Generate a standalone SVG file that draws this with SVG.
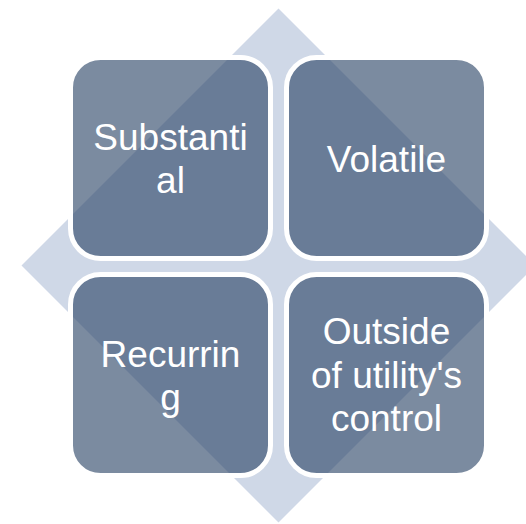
<svg xmlns="http://www.w3.org/2000/svg" width="526" height="524" viewBox="0 0 526 524">
<style>
.box{fill:#2a4466;fill-opacity:0.62;stroke:#ffffff;stroke-width:5}
.lbl{font-family:"Liberation Sans",Arial,sans-serif;font-size:37px;fill:#ffffff;text-anchor:middle}
</style>
<rect width="526" height="524" fill="#ffffff"/>
<g id="diamond"><polygon points="278.5,8.5 535.5,265.5 278.5,522.5 21.5,265.5" fill="#cfd8e7"/></g>
<g id="connectors"/>
<g id="n1"><rect class="box" x="70.5" y="57.5" width="200" height="201" rx="30"/><text class="lbl" x="170.5" y="150">Substanti</text><text class="lbl" x="170.5" y="193">al</text></g>
<g id="n2"><rect class="box" x="286.5" y="57.5" width="200" height="201" rx="30"/><text class="lbl" x="386.5" y="172">Volatile</text></g>
<g id="n3"><rect class="box" x="70.5" y="274.5" width="200" height="201" rx="30"/><text class="lbl" x="170.5" y="367">Recurrin</text><text class="lbl" x="170.5" y="410">g</text></g>
<g id="n4"><rect class="box" x="286.5" y="274.5" width="200" height="201" rx="30"/><text class="lbl" x="386.5" y="344">Outside</text><text class="lbl" x="386.5" y="388">of utility's</text><text class="lbl" x="386.5" y="431">control</text></g>
</svg>
